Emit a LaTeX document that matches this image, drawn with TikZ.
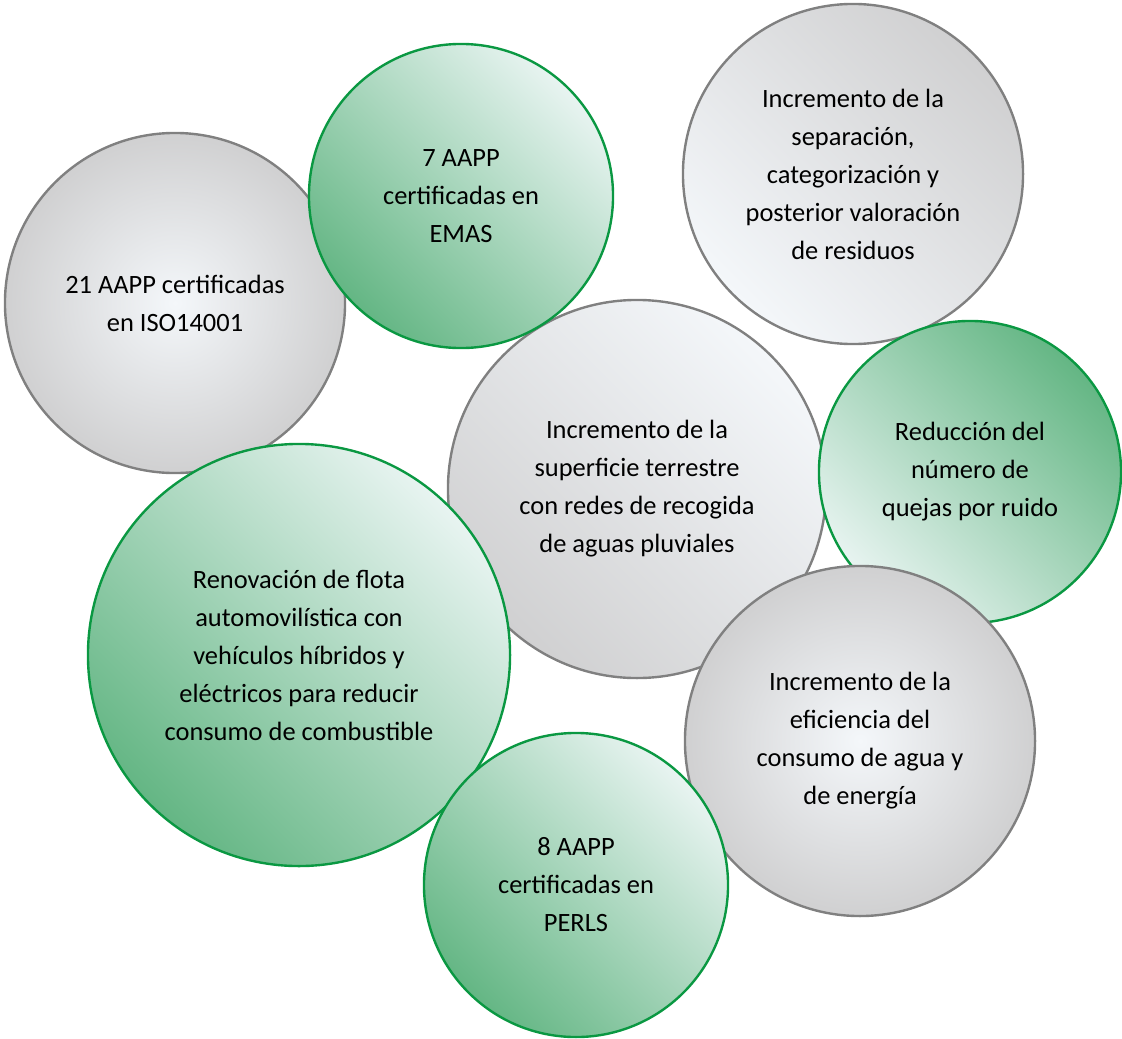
\documentclass[tikz,border=0pt]{standalone}
\usepackage{fontspec}
\setmainfont{Carlito}
\usepackage{xcolor}
\usepackage{tikz}
\usetikzlibrary{shapes.geometric, positioning, calc}
\definecolor{mygreen}{RGB}{10,152,66}
\definecolor{mygrey}{RGB}{128,128,128}
\definecolor{greendark}{RGB}{100,182,132}
\definecolor{greenlight}{RGB}{232,244,241}
\definecolor{greydark}{RGB}{208,208,209}
\definecolor{greylight}{RGB}{244,247,250}
\tikzset{
  bubble/.style={circle, align=center, inner sep=0pt,
    font=\fontsize{18.8}{27}\selectfont, line width=1.7pt},
  greenbubble/.style={bubble, draw=mygreen,
    left color=greendark, right color=greenlight, shading angle=135},
  greenflip/.style={bubble, draw=mygreen,
    left color=greenlight, right color=greendark, shading angle=135},
  greybubble/.style={bubble, draw=mygrey, shading=radial,
    inner color=greylight, outer color=greydark},
  greyup/.style={bubble, draw=mygrey,
    left color=greylight, right color=greydark, shading angle=135},
  greydown/.style={bubble, draw=mygrey,
    left color=greydark, right color=greylight, shading angle=135}
}
\begin{document}
\begin{tikzpicture}[x=0.025cm, y=-0.025cm]
  \useasboundingbox (0,0) rectangle (1122,1038);

  % Nodes
  \node[greybubble, minimum size=8.5cm] (iso) at (175,303) {21 AAPP certificadas\\en ISO14001};
  \node[greyup, minimum size=8.5cm] (resid) at (853,174) {Incremento de la\\separación,\\categorización y\\posterior valoración\\de residuos};
  \node[greydown, minimum size=9.45cm] (pluv) at (637,489) {Incremento de la\\superficie terrestre\\con redes de recogida\\de aguas pluviales};
  \node[greenbubble, minimum size=7.6cm] (emas) at (461,196) {7 AAPP\\certificadas en\\EMAS};
  \node[greenbubble, minimum size=10.55cm] (flota) at (299,655) {Renovación de flota\\automovilística con\\vehículos híbridos y\\eléctricos para reducir\\consumo de combustible};
  \node[greenflip, minimum size=7.55cm] (ruido) at (970,472) {Reducción del\\número de\\quejas por ruido};
  \node[greybubble, minimum size=8.75cm] (efic) at (860,741) {Incremento de la\\eficiencia del\\consumo de agua y\\de energía};
  \node[greenbubble, minimum size=7.6cm] (perls) at (576,885) {8 AAPP\\certificadas en\\PERLS};
\end{tikzpicture}
\end{document}
